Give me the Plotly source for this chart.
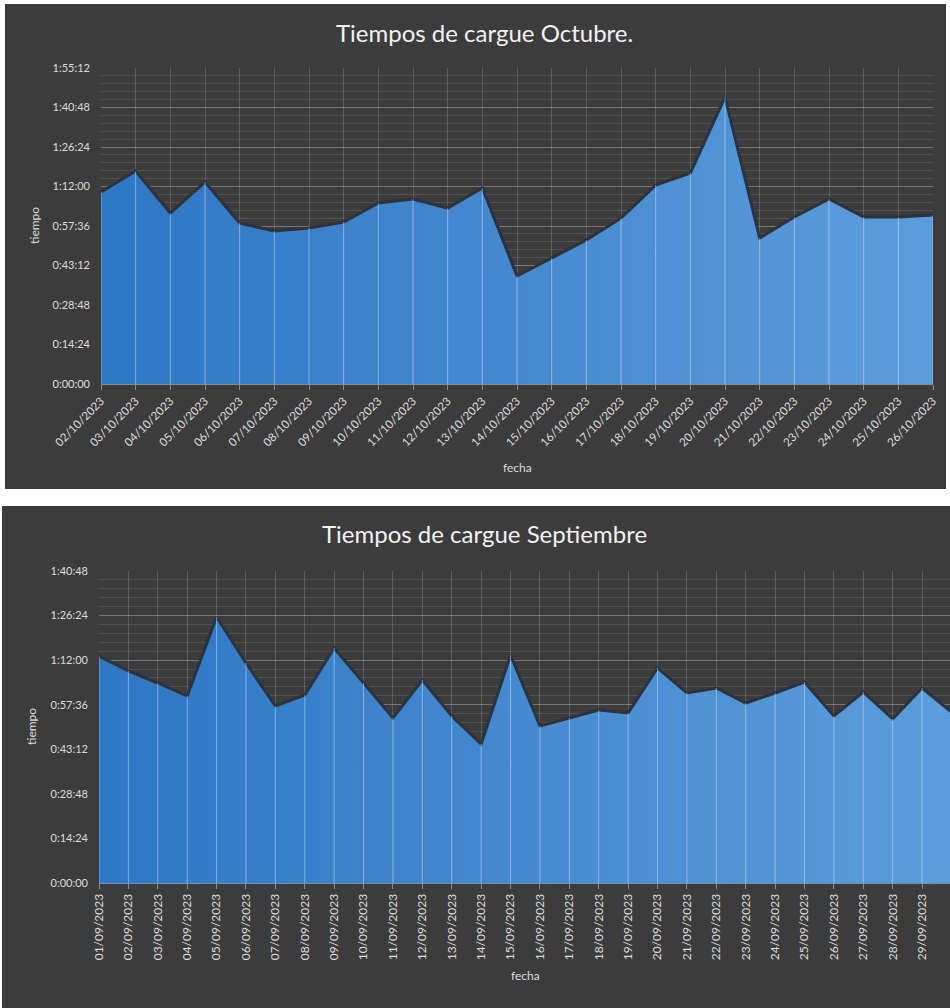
import plotly.graph_objects as go

# ---------------- data ----------------
oct_fechas = ["02/10/2023", "03/10/2023", "04/10/2023", "05/10/2023", "06/10/2023",
              "07/10/2023", "08/10/2023", "09/10/2023", "10/10/2023", "11/10/2023",
              "12/10/2023", "13/10/2023", "14/10/2023", "15/10/2023", "16/10/2023",
              "17/10/2023", "18/10/2023", "19/10/2023", "20/10/2023", "21/10/2023",
              "22/10/2023", "23/10/2023", "24/10/2023", "25/10/2023", "26/10/2023"]
oct_tiempos = ["1:10:00", "1:17:38", "1:02:20", "1:13:38", "0:58:41",
               "0:55:46", "0:56:52", "0:59:03", "1:05:58", "1:07:26",
               "1:04:09", "1:11:27", "0:39:22", "0:45:56", "0:52:29",
               "1:00:30", "1:12:32", "1:16:55", "1:44:37", "0:53:13",
               "1:00:52", "1:07:26", "1:00:52", "1:00:52", "1:01:36"]

sep_fechas = ["01/09/2023", "02/09/2023", "03/09/2023", "04/09/2023", "05/09/2023",
              "06/09/2023", "07/09/2023", "08/09/2023", "09/09/2023", "10/09/2023",
              "11/09/2023", "12/09/2023", "13/09/2023", "14/09/2023", "15/09/2023",
              "16/09/2023", "17/09/2023", "18/09/2023", "19/09/2023", "20/09/2023",
              "21/09/2023", "22/09/2023", "23/09/2023", "24/09/2023", "25/09/2023",
              "26/09/2023", "27/09/2023", "28/09/2023", "29/09/2023", "30/09/2023"]
sep_tiempos = ["1:13:20", "1:08:30", "1:04:37", "1:00:25", "1:25:56",
               "1:11:05", "0:57:11", "1:00:44", "1:15:55", "1:04:37",
               "0:53:19", "1:05:35", "0:53:57", "0:44:55", "1:13:40",
               "0:50:43", "0:53:19", "0:55:54", "0:54:55", "1:09:28",
               "1:01:23", "1:03:00", "0:58:09", "1:01:23", "1:04:56",
               "0:53:57", "1:01:43", "0:52:59", "1:03:00", "0:55:15"]

oct_ticks = ["0:00:00", "0:14:24", "0:28:48", "0:43:12", "0:57:36",
             "1:12:00", "1:26:24", "1:40:48", "1:55:12"]
sep_ticks = ["0:00:00", "0:14:24", "0:28:48", "0:43:12", "0:57:36",
             "1:12:00", "1:26:24", "1:40:48"]

oct_title = "Tiempos de cargue Octubre."
sep_title = "Tiempos de cargue Septiembre"


def to_sec(t):
    h, m, s = (int(p) for p in t.split(":"))
    return h * 3600 + m * 60 + s


W, H = 950, 1008
FONT = "Lato"
TXT = "#dcdcdc"
PANEL = "#3c3c3c"


def px(x):
    return x / W


def py(y):
    return 1 - y / H


fig = go.Figure()


def add_area(fechas, tiempos, xa, ya):
    vals = [to_sec(t) for t in tiempos]
    fig.add_trace(go.Scatter(
        x=fechas, y=vals, xaxis=xa, yaxis=ya, mode="lines", fill="tozeroy",
        line=dict(color="#263446", width=3),
        fillgradient=dict(type="horizontal",
                          colorscale=[[0, "#2e77c4"], [1, "#5c9ddb"]]),
        customdata=tiempos, hovertemplate="%{x}<br>%{customdata}<extra></extra>",
        showlegend=False))
    vx, vy = [], []
    for c, v in zip(fechas, vals):
        vx += [c, c, None]
        vy += [0, v, None]
    fig.add_trace(go.Scatter(
        x=vx, y=vy, xaxis=xa, yaxis=ya, mode="lines",
        line=dict(color="rgba(205,230,255,0.5)", width=1),
        hoverinfo="skip", showlegend=False))


add_area(oct_fechas, oct_tiempos, "x", "y")
add_area(sep_fechas, sep_tiempos, "x2", "y2")

xcommon = dict(type="category", showgrid=True, gridcolor="rgba(255,255,255,0.17)",
               gridwidth=1, ticks="outside", ticklen=5, tickcolor="#8c8c8c",
               showline=True, linecolor="#8c8c8c", linewidth=1, zeroline=False,
               automargin=False, fixedrange=True)
ycommon = dict(showgrid=True, gridcolor="rgba(255,255,255,0.22)", gridwidth=1,
               zeroline=False, showline=False, ticks="", ticklabelstandoff=10,
               automargin=False,
               tickfont=dict(family=FONT, size=11, color=TXT), fixedrange=True,
               minor=dict(dtick=172.8, tick0=0, showgrid=True,
                          gridcolor="rgba(255,255,255,0.11)", gridwidth=1))


def ann(text, x, y, size, color=TXT, angle=0):
    return dict(text=text, x=px(x), y=py(y), xref="paper", yref="paper",
                xanchor="center", yanchor="middle", textangle=angle,
                showarrow=False, font=dict(family=FONT, size=size, color=color))


fig.update_layout(
    width=W, height=H, margin=dict(l=0, r=0, t=0, b=0, autoexpand=False),
    paper_bgcolor="#ffffff", plot_bgcolor="rgba(0,0,0,0)",
    xaxis=dict(xcommon, domain=[px(101), px(933)], anchor="y",
               range=[0, len(oct_fechas) - 1], tickangle=-45,
               tickfont=dict(family=FONT, size=11.5, color=TXT)),
    yaxis=dict(ycommon, domain=[py(384), py(68)], anchor="x",
               range=[0, to_sec(oct_ticks[-1])],
               tickvals=[to_sec(t) for t in oct_ticks], ticktext=oct_ticks),
    xaxis2=dict(xcommon, domain=[px(99), 1.0], anchor="y2",
                range=[0, 28.95], tickangle=-90,
                tickfont=dict(family=FONT, size=12, color=TXT)),
    yaxis2=dict(ycommon, domain=[py(883), py(571)], anchor="x2",
                range=[0, to_sec(sep_ticks[-1])],
                tickvals=[to_sec(t) for t in sep_ticks], ticktext=sep_ticks),
    shapes=[
        dict(type="rect", xref="paper", yref="paper", x0=px(5), x1=px(946),
             y0=py(489), y1=py(4), fillcolor=PANEL, line=dict(width=0), layer="below"),
        dict(type="rect", xref="paper", yref="paper", x0=px(2), x1=1.0,
             y0=0, y1=py(506), fillcolor=PANEL, line=dict(width=0), layer="below"),
    ],
    annotations=[
        ann(oct_title, 484, 33, 24, "#f2f2f2"),
        ann(sep_title, 484, 533, 24, "#f2f2f2"),
        ann("tiempo", 35, 226, 12, angle=-90),
        ann("tiempo", 31, 727, 12, angle=-90),
        ann("fecha", 517, 467, 12),
        ann("fecha", 525, 975, 12),
    ],
)

fig.write_html("out.html", config={"displayModeBar": False},
               post_script="document.body.style.margin='0';document.body.style.overflow='hidden';")
